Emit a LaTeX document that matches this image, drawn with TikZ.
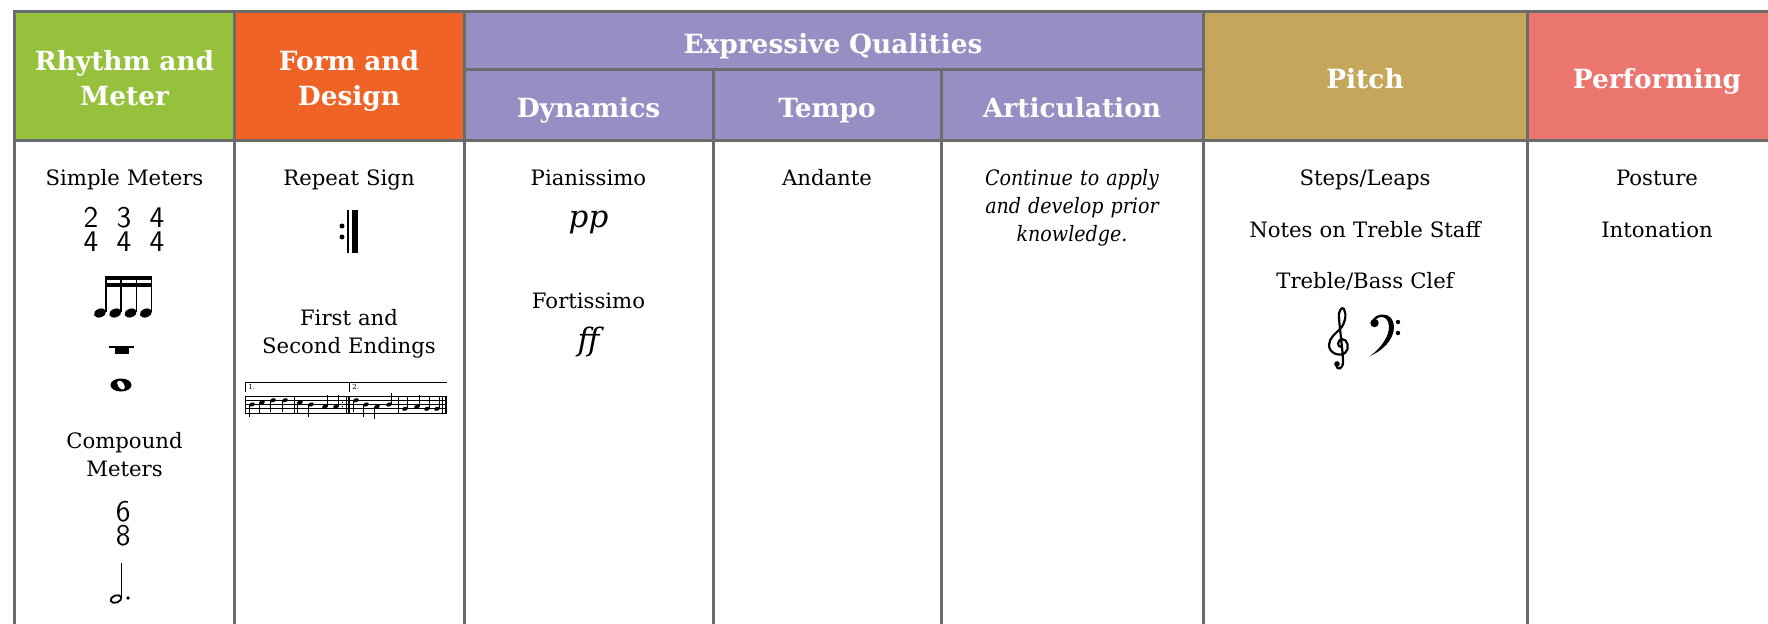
\documentclass[tikz,border=0pt]{standalone}
\usepackage{fontspec}
\setmainfont{DejaVu Serif}
\newfontfamily\narrowserif[FakeStretch=0.9]{DejaVu Serif}
\usepackage{tikz}
\definecolor{rhythmgreen}{HTML}{96C13D}
\definecolor{formorange}{HTML}{EF6426}
\definecolor{exprpurple}{HTML}{978EC3}
\definecolor{pitchtan}{HTML}{C4A75B}
\definecolor{perfsalmon}{HTML}{EB766F}
\definecolor{rulegray}{HTML}{6B6B6B}
\newcommand\tabbody{\fontsize{10.6}{14}\selectfont}
\newcommand\tabhead{\fontsize{13.2}{17.5}\selectfont\bfseries}
\begin{document}
\begin{tikzpicture}[x=0.5pt, y=-0.5pt]
	\tikzstyle{rule}=[draw=rulegray, line width=1.5pt, line cap=rect];
	\tikzstyle{head}=[text=white, font=\tabhead, align=center, text width=118pt,
	                  anchor=base, inner sep=0pt];
	\tikzstyle{cell}=[font=\tabbody, align=center, text width=118pt, anchor=base, inner sep=0pt];
	\tikzstyle{sig}=[font=\sffamily\fontsize{15}{12.2}\selectfont, align=center, text width=10pt,
	                 anchor=base, inner sep=0pt];
	\useasboundingbox (0,0) rectangle (1768,623);
	\foreach \c/\x in {a/14.5, b/234, c/464, d/713, e/941, f/1203, g/1527, h/1768}
	{\coordinate (top\c) at (\x,11.5);
	 \coordinate (mid\c) at (\x,69);
	 \coordinate (hd\c) at (\x,140);
	 \coordinate (bot\c) at (\x,623);}
	\fill[rhythmgreen] (topa) rectangle (hdb);
	\fill[formorange] (topb) rectangle (hdc);
	\fill[exprpurple] (topc) rectangle (hdf);
	\fill[pitchtan] (topf) rectangle (hdg);
	\fill[perfsalmon] (topg) rectangle (hdh);
	\draw[rule] (topa) -- (toph) (hda) -- (hdh) (midc) -- (midf);
	\foreach \c in {a,b,c,f,g}
	{\draw[rule] (top\c) -- (bot\c);}
	\foreach \c in {d,e}
	{\draw[rule] (mid\c) -- (bot\c);}
	\node[head] (rhythm) at (124.5,70) {Rhythm and\\Meter};
	\node[head] (form) at (349,70) {Form and\\Design};
	\node[head, text width=200pt] (expr) at (833,53) {Expressive Qualities};
	\node[head] (dyn) at (588.5,117) {Dynamics};
	\node[head] (tempo) at (827,117) {Tempo};
	\node[head] (artic) at (1072,117) {Articulation};
	\node[head] (pitch) at (1365,88) {Pitch};
	\node[head] (perf) at (1657,88) {Performing};
	\node[cell] (simple) at (124.5,185) {Simple Meters};
	\foreach \n/\x in {2/91, 3/124, 4/157}
	{\node[sig] (meter\n) at (\x,227.3) {\n\\4};}
	\foreach \i in {0,1,2,3}
	{\fill[rotate around={20:(100+15.3*\i,313)}] (100+15.3*\i,313) ellipse [x radius=6.3, y radius=4.3];
	 \draw[line width=0.75pt] (105.8+15.3*\i,312) -- (105.8+15.3*\i,276);}
	\fill (105.4,275.5) rectangle (152.3,279.5);
	\fill (105.4,282.5) rectangle (152.3,286.5);
	\draw[line width=0.6pt] (109,347) -- (134,347);
	\fill (115,347) rectangle (129,354);
	\fill (121,385) ellipse [x radius=10.5, y radius=6.5];
	\fill[white, rotate around={-55:(121,385)}] (121,385) ellipse [x radius=5.2, y radius=3];
	\node[cell] (compound) at (124.5,448) {Compound\\Meters};
	\node[sig] (sixeight) at (123.3,521) {6\\8};
	\draw[line width=0.9pt, rotate around={20:(116,599)}] (116,599) ellipse [x radius=5.5, y radius=3.6];
	\draw[line width=0.6pt] (121.6,597) -- (121.6,563);
	\fill (128,598) circle [radius=1.8];
	\node[cell] (repeat) at (349,185) {Repeat Sign};
	\fill (342,226) circle [radius=2.5] (342,237) circle [radius=2.5];
	\draw[line width=0.7pt] (348,210) -- (348,253);
	\fill (352,210) rectangle (358,253);
	\node[cell] (endings) at (349,325) {First and\\Second Endings};
	\foreach \k in {0,...,4}
	{\draw[line width=0.35pt] (245,396+4.25*\k) -- (447,396+4.25*\k);}
	\draw[line width=0.4pt] (245,392) -- (245,382) -- (447,382) (349,392) -- (349,382);
	\node[font=\fontsize{3.5}{4}\selectfont, anchor=base west, inner sep=0pt] (one) at (248,389) {1.};
	\node[font=\fontsize{3.5}{4}\selectfont, anchor=base west, inner sep=0pt] (two) at (352,389) {2.};
	\foreach \bx in {245, 294, 346, 398, 442.5}
	{\draw[line width=0.4pt] (\bx,396) -- (\bx,413);}
	\draw[line width=1pt] (349,396) -- (349,413) (446,396) -- (446,413);
	\fill (342.5,402.4) circle [radius=0.8] (342.5,406.6) circle [radius=0.8];
	\foreach \nx/\ny/\sd in {252/404.5/1, 262/402.4/1, 273/400.25/1, 285/400.25/1,
	                         300/402.4/1, 311/404.5/1, 325/406.6/-1, 336/406.6/-1,
	                         356/400.25/1, 366/404.5/1, 377/406.6/1, 389/404.5/-1,
	                         405/408.75/-1, 417/406.6/-1, 427/408.75/-1, 437/408.75/-1}
	{\fill[rotate around={20:(\nx,\ny)}] (\nx,\ny) ellipse [x radius=2.9, y radius=2];
	 \draw[line width=0.35pt] (\nx-2.6*\sd,\ny) -- (\nx-2.6*\sd,\ny+12*\sd);}
	\node[cell] (pianissimo) at (588.5,185) {Pianissimo};
	\node[cell, font=\fontsize{15.5}{15}\selectfont\itshape] (pp) at (588.5,227) {pp};
	\node[cell] (fortissimo) at (588.5,308) {Fortissimo};
	\node[cell, font=\fontsize{15.5}{15}\selectfont\itshape] (ff) at (588.5,350) {ff};
	\node[cell] (andante) at (827,185) {Andante};
	\node[cell, font=\tabbody\narrowserif\itshape, text width=125pt] (apply) at (1072,185)
	     {Continue to apply\\and develop prior\\knowledge.};
	\node[cell] (steps) at (1365,185) {Steps/Leaps};
	\node[cell, text width=150pt] (notes) at (1365,237) {Notes on Treble Staff};
	\node[cell] (clefs) at (1365,288) {Treble/Bass Clef};
	\begin{scope}[shift={(1328,307)}]
	\draw[line width=1.1pt, line cap=round]
	  (13,40) .. controls (9,40) and (9,33) .. (14,32)
	  .. controls (20,32) and (22,42) .. (17,46)
	  .. controls (11,50) and (1,46) .. (1,38)
	  .. controls (1,31) and (8,26) .. (12,22)
	  .. controls (17,17) and (19,8) .. (16,2)
	  .. controls (14,-1) and (10,4) .. (11,11)
	  .. controls (12,25) and (15,45) .. (15,55)
	  .. controls (15,62) and (9,64) .. (8,58);
	\fill (9,57) circle [radius=2.8];
	\end{scope}
	\begin{scope}[shift={(1370,315)}]
	\fill (2,7) .. controls (3,1) and (9,-0.5) .. (13,-0.5)
	  .. controls (20,-0.5) and (24,5) .. (24,12)
	  .. controls (24,25) and (12,36) .. (0,41)
	  .. controls (10,34) and (19,22) .. (19,12)
	  .. controls (19,5) and (15,2) .. (12,2)
	  .. controls (8,2) and (5,4) .. (5,7) -- cycle;
	\fill (4.5,8) circle [radius=4.2];
	\fill (28,7) circle [radius=2.2] (28,18) circle [radius=2.2];
	\end{scope}
	\node[cell] (posture) at (1657,185) {Posture};
	\node[cell] (intonation) at (1657,237) {Intonation};
\end{tikzpicture}
\end{document}
